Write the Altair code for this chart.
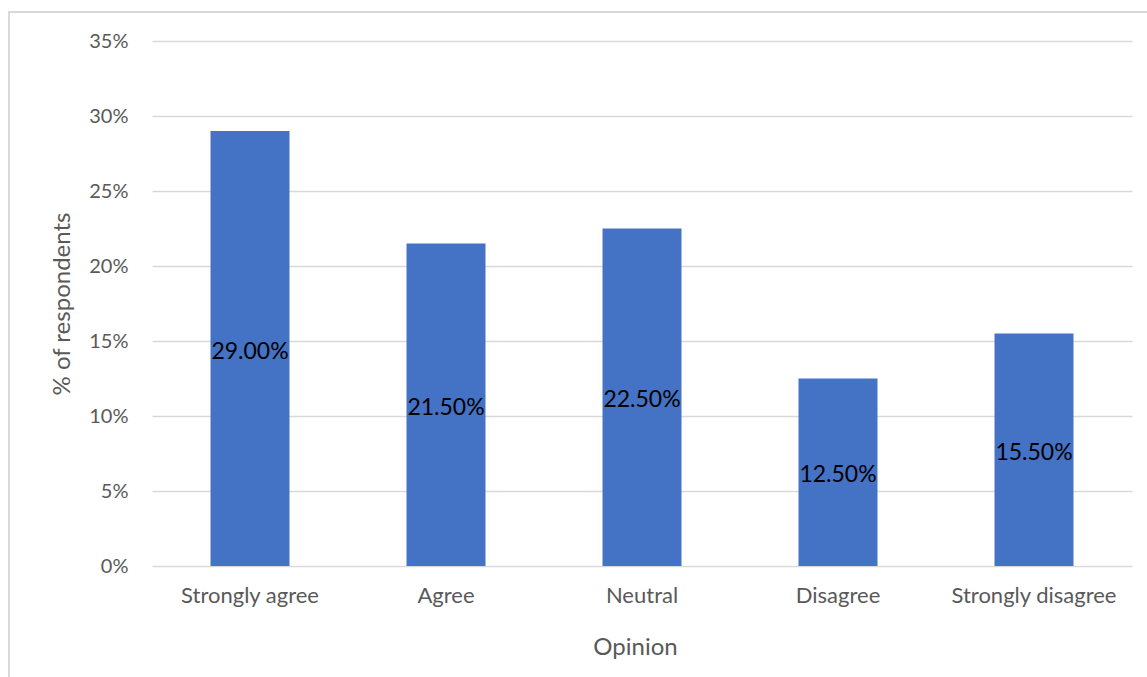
import altair as alt
import pandas as pd

categories = ["Strongly agree", "Agree", "Neutral", "Disagree", "Strongly disagree"]
values = [0.29, 0.215, 0.225, 0.125, 0.155]
y_ticks = [0, 0.05, 0.10, 0.15, 0.20, 0.25, 0.30, 0.35]

df = pd.DataFrame({"Opinion": categories, "pct": values})

FONT = "Lato"
W, H = 980, 525

x = alt.X("Opinion:N", sort=categories,
          scale=alt.Scale(paddingInner=0.597, paddingOuter=0.2985),
          axis=alt.Axis(title="Opinion", labelAngle=0, labelFontSize=22, labelColor="#595959",
                        labelFont=FONT, labelPadding=19, ticks=False, domain=False, grid=False,
                        titleFont=FONT, titleFontSize=24, titleColor="#595959", titleFontWeight="normal",
                        titleX=483, titleY=81, titleBaseline="middle", titleAlign="center"))
y = alt.Y("pct:Q", scale=alt.Scale(domain=[0, 0.35], nice=False),
          axis=alt.Axis(title="% of respondents", format=".0%", values=y_ticks,
                        labelFontSize=20, labelColor="#595959", labelFont=FONT, labelPadding=24,
                        ticks=False, domain=False, grid=True, gridColor="#d9d9d9", gridWidth=1.5,
                        titleFont=FONT, titleFontSize=24, titleColor="#595959", titleFontWeight="normal",
                        titleX=-90, titleY=H / 2, titleAngle=270, titleBaseline="middle", titleAlign="center"))

bars = alt.Chart(df).mark_bar(color="#4472C4").encode(x=x, y=y)

labels = alt.Chart(df).transform_calculate(mid="datum.pct / 2").mark_text(
    font=FONT, fontSize=23, color="#000000", baseline="middle", dy=3
).encode(
    x=alt.X("Opinion:N", sort=categories, title="Opinion"),
    y=alt.Y("mid:Q", title="% of respondents"),
    text=alt.Text("pct:Q", format=".2%"),
)

border = alt.Chart(pd.DataFrame({"a": [0]})).mark_rect(
    fill=None, stroke="#d9d9d9", strokeWidth=2, clip=False
).encode(
    x=alt.value(-143), x2=alt.value(1010), y=alt.value(-29), y2=alt.value(700)
)

chart = alt.layer(border, bars, labels).properties(
    width=W, height=H,
    background="white",
    autosize=alt.AutoSizeParams(type="none"),
    padding={"left": 152, "top": 41, "right": 15, "bottom": 111},
).configure_view(stroke=None)

chart.save("out.html", embed_options={"renderer": "svg", "actions": False})
